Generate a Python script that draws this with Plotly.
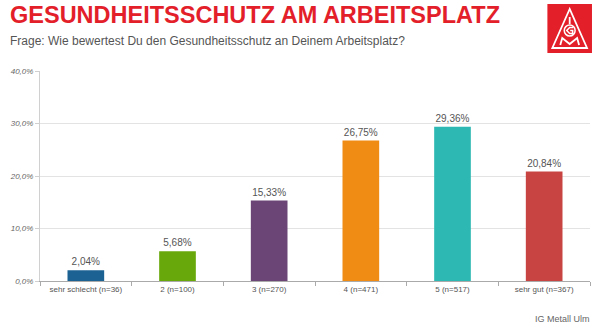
import plotly.graph_objects as go

categories = ["sehr schlecht (n=36)", "2 (n=100)", "3 (n=270)", "4 (n=471)", "5 (n=517)", "sehr gut (n=367)"]
values = [2.04, 5.68, 15.33, 26.75, 29.36, 20.84]
colors = ["#1c6293", "#68a80a", "#6a4576", "#f08b14", "#2db8b3", "#c84443"]
y_ticks = [0, 10, 20, 30, 40]
y_tick_labels = ["0,0%", "10,0%", "20,0%", "30,0%", "40,0%"]

labels = [f"{v:.2f}".replace(".", ",") + "%" for v in values]

font = "Liberation Sans, Roboto"
fig = go.Figure(go.Bar(
    x=categories, y=values, marker=dict(color=colors, line=dict(width=0)),
    width=0.4, text=labels, textposition="outside", cliponaxis=False,
    textfont=dict(size=10, color="#555555", family=font),
))

fig.update_layout(
    width=600, height=327,
    margin=dict(l=35, r=10, t=71, b=46),
    paper_bgcolor="white", plot_bgcolor="white",
    showlegend=False,
    font=dict(family=font, color="#555555"),
    xaxis=dict(showline=True, linecolor="#aaaaaa", linewidth=1, ticks="outside",
               tickson="boundaries", ticklen=4, tickcolor="#aaaaaa",
               tickfont=dict(size=8, color="#555555")),
    yaxis=dict(range=[0, 40], tickvals=y_ticks, ticktext=y_tick_labels,
               showgrid=True, gridcolor="#e3e3e3", gridwidth=1,
               showline=True, linecolor="#d0d0d0", ticks="outside", ticklen=4,
               tickcolor="#d0d0d0", zeroline=False,
               tickfont=dict(size=8, color="#666666", family=font, style="italic")),
)

def px(x): return (x - 35) / 555
def py(y): return 1 + (71 - y) / 210

fig.add_annotation(text="<b>GESUNDHEITSSCHUTZ AM ARBEITSPLATZ</b>", xref="paper", yref="paper",
                   x=px(3), y=py(15), xanchor="left", yanchor="middle", showarrow=False,
                   font=dict(size=23.5, color="#e3202a", family=font))
fig.add_annotation(text="Frage: Wie bewertest Du den Gesundheitsschutz an Deinem Arbeitsplatz?",
                   xref="paper", yref="paper", x=px(3), y=py(41),
                   xanchor="left", yanchor="middle", showarrow=False,
                   font=dict(size=12, color="#555555", family=font))
fig.add_annotation(text="IG Metall Ulm", xref="paper", yref="paper", x=px(592), y=py(319),
                   xanchor="right", yanchor="middle", showarrow=False,
                   font=dict(size=9, color="#666666", family=font))

# logo (decoration)
fig.add_shape(type="rect", xref="paper", yref="paper", x0=px(547), x1=px(592),
              y0=py(53), y1=py(4), fillcolor="#e3202a", line=dict(width=0))
tri = f"M {px(569.5)} {py(9)} L {px(552)} {py(48)} L {px(587)} {py(48)} Z"
fig.add_shape(type="path", xref="paper", yref="paper", path=tri, line=dict(color="white", width=1.8))
# I
fig.add_shape(type="line", xref="paper", yref="paper", x0=px(569.5), x1=px(569.5), y0=py(17), y1=py(24),
              line=dict(color="white", width=1.8))
# G ring
fig.add_shape(type="circle", xref="paper", yref="paper", x0=px(564), x1=px(575), y0=py(36), y1=py(25),
              line=dict(color="white", width=1.5))
gpath = f"M {px(573)} {py(27.5)} L {px(569.5)} {py(27.5)} L {px(566.5)} {py(30.5)} L {px(569.5)} {py(33.5)} L {px(572.5)} {py(33.5)} L {px(572.5)} {py(30.5)} L {px(570)} {py(30.5)}"
fig.add_shape(type="path", xref="paper", yref="paper", path=gpath, line=dict(color="white", width=1.5))
# M
mpath = f"M {px(560)} {py(45)} L {px(562)} {py(38)} L {px(569.5)} {py(44)} L {px(577)} {py(38)} L {px(579)} {py(45)}"
fig.add_shape(type="path", xref="paper", yref="paper", path=mpath, line=dict(color="white", width=1.8))

fig.write_html("out.html")
